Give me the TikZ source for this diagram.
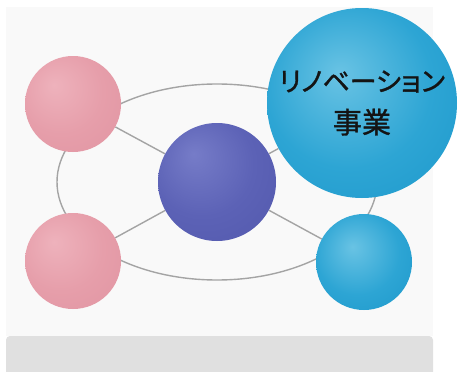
\documentclass[tikz,border=0pt]{standalone}
\usepackage{fontspec}
\newfontfamily\jpfont[FakeBold=1.2]{Noto Sans CJK JP}
\newfontfamily\jpprop[FakeBold=1.2,RawFeature=+palt]{Noto Sans CJK JP}
\usetikzlibrary{backgrounds}
\definecolor{panel}{HTML}{F9F9F9}
\definecolor{boxgray}{HTML}{E0E0E0}
\definecolor{linkgray}{HTML}{A4A4A4}
\definecolor{pinkhi}{RGB}{238,178,188}
\definecolor{pinkmid}{RGB}{230,158,170}
\definecolor{pinkedge}{RGB}{220,140,155}
\definecolor{purphi}{RGB}{118,124,200}
\definecolor{purpmid}{RGB}{92,98,182}
\definecolor{purpedge}{RGB}{74,80,165}
\definecolor{cyanhi}{RGB}{105,195,228}
\definecolor{cyanmid}{RGB}{45,165,212}
\definecolor{cyanedge}{RGB}{15,140,195}
\pgfdeclareradialshading{pinkball}{\pgfpoint{-10bp}{10bp}}{color(0bp)=(pinkhi); color(22bp)=(pinkmid); color(60bp)=(pinkedge)}
\pgfdeclareradialshading{purpball}{\pgfpoint{-10bp}{12bp}}{color(0bp)=(purphi); color(22bp)=(purpmid); color(60bp)=(purpedge)}
\pgfdeclareradialshading{cyanball}{\pgfpoint{-6bp}{8bp}}{color(0bp)=(cyanhi); color(22bp)=(cyanmid); color(56bp)=(cyanedge)}
\pgfdeclarelayer{back}
\pgfsetlayers{back,background,main}
\tikzset{
  ball/.style={circle, inner sep=0pt, shade, draw=none},
  link/.style={draw=linkgray, line width=1.4pt},
}
\begin{document}
\begin{tikzpicture}[x=1pt,y=-1pt]
\useasboundingbox (0,0) rectangle (459,372);
\begin{pgfonlayer}{back}
  \fill[white] (0,0) rectangle (459,372);
  \fill[panel] (6,7) rectangle (433,336);
  \fill[boxgray, rounded corners=4pt] (6,336) rectangle (433,380);
\end{pgfonlayer}
\node[ball, shading=pinkball, minimum size=96pt] (tl) at (73,104) {};
\node[ball, shading=pinkball, minimum size=96pt] (bl) at (73,261) {};
\node[ball, shading=purpball, minimum size=118pt] (ctr) at (217,182) {};
\node[ball, shading=cyanball, minimum size=190pt, align=center, text=black!92]
      (big) at (362,103)
      {{\jpprop\fontsize{27}{30}\selectfont リノベーション}\\[15pt]
       {\jpfont\fontsize{29}{30}\selectfont 事業}};
\node[ball, shading=cyanball, minimum size=96pt] (sc) at (364,262) {};
\begin{scope}[on background layer]
  \draw[link] (ctr.center) ellipse [x radius=160, y radius=98];
  \draw[link] (tl) -- (ctr);
  \draw[link] (bl) -- (ctr);
  \draw[link] (big) -- (ctr);
  \draw[link] (sc) -- (ctr);
\end{scope}
\end{tikzpicture}
\end{document}
